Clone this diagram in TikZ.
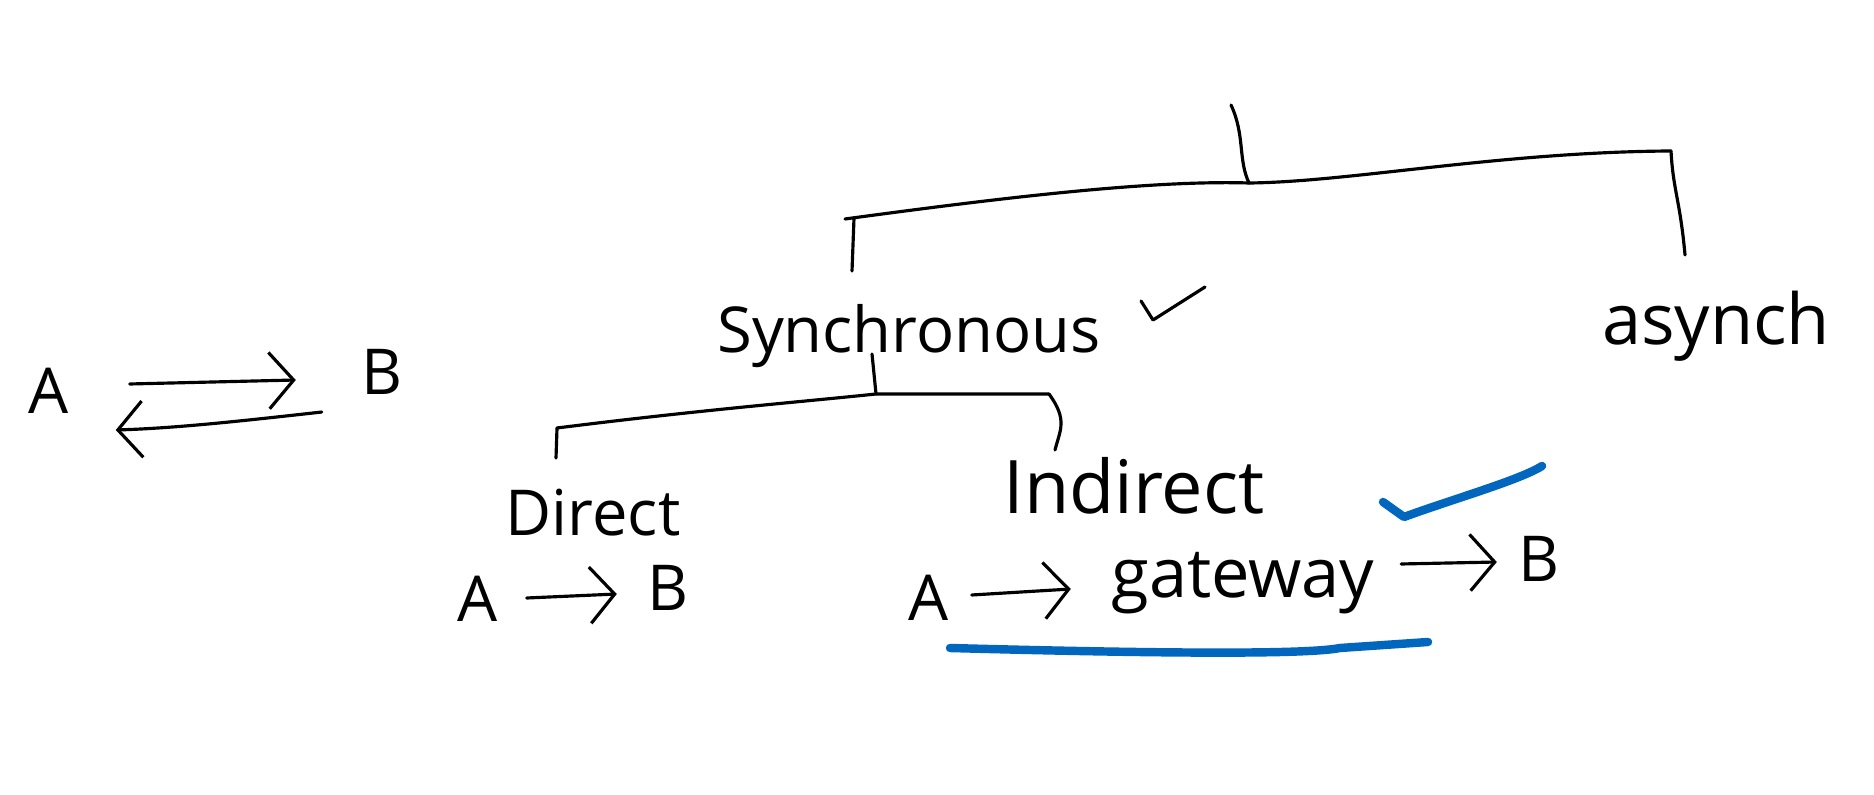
\documentclass[tikz,border=0pt]{standalone}
\usepackage{fontspec}
\setmainfont{Open Sans}
\usepackage{tikz}
\usetikzlibrary{arrows.meta}
\usetikzlibrary{positioning}

\definecolor{penblue}{RGB}{0,102,190}

\tikzset{
    word/.style={font=\fontsize{18}{22}\selectfont, inner sep=0pt},
    pen/.style={line width=0.9pt, line cap=round, line join=round},
    barb/.style={pen, -{Straight Barb[length=7pt, width=16pt, line width=0.9pt]}},
    marker/.style={line width=2.4pt, penblue, line cap=round, line join=round}
}

\begin{document}
\begin{tikzpicture}[x=0.01cm, y=-0.01cm]
    \useasboundingbox (0,0) rectangle (1874,795);

    % tree
    \coordinate (top) at (1231,105);
    \coordinate (junc) at (1249,183);
    \coordinate (lend) at (845,219);
    \coordinate (rend) at (1671,151);
    \coordinate (lsplit) at (854,218);
    \coordinate (lfoot) at (852,271);
    \coordinate (rfoot) at (1685,255);
    \node[word] (sync) at (909,336) {Synchronous};
    \node[word, font=\fontsize{20}{24}\selectfont] (async) at (1716,326) {asynch};
    \draw[pen] (top) .. controls (1245,135) and (1238,160) .. (junc);
    \draw[pen] (lend) .. controls (1000,198) and (1150,180) .. (junc);
    \draw[pen] (junc) .. controls (1350,182) and (1500,152) .. (rend);
    \draw[pen] (lsplit) -- (lfoot);
    \draw[pen] (rend) .. controls (1673,190) and (1680,200) .. (rfoot);
    \draw[pen] (1141,301) -- (1153,320) -- (1205,287);

    % A <-> B
    \node[word] (a0) at (49,391) {A};
    \node[word] (b0) at (382,372) {B};
    \draw[barb] ([xshift=0.60cm, yshift=0.07cm]a0.east) -- ([xshift=-0.65cm, yshift=-0.08cm]b0.west);
    \draw[barb] ([xshift=-0.39cm, yshift=-0.40cm]b0.west) .. controls (250,420) and (180,428) .. ([xshift=0.46cm, yshift=-0.39cm]a0.east);

    % second level
    \coordinate (sstem) at (872,354);
    \coordinate (sjunc) at (876,394);
    \coordinate (send) at (557,428);
    \coordinate (iend) at (1049,394);
    \coordinate (dfoot) at (556,458);
    \coordinate (ifoot) at (1055,450);
    \node[word] (direct) at (593,513) {Direct};
    \node[word, font=\fontsize{21}{25}\selectfont] (indirect) at (1134,486) {Indirect};
    \draw[pen] (sstem) -- (sjunc);
    \draw[pen] (send) .. controls (700,410) and (800,402) .. (sjunc) -- (iend);
    \draw[pen] (send) -- (dfoot);
    \draw[pen] (iend) .. controls (1068,420) and (1060,430) .. (ifoot);

    % direct
    \node[word] (a1) at (478,599) {A};
    \node[word] (b1) at (668,588) {B};
    \draw[barb] ([xshift=0.28cm, yshift=0.01cm]a1.east) -- ([xshift=-0.30cm, yshift=-0.06cm]b1.west);

    % indirect
    \node[word] (a2) at (929,598) {A};
    \node[word, font=\fontsize{19.5}{23}\selectfont] (gw) at (1243,583) {gateway};
    \node[word] (b2) at (1539,559) {B};
    \draw[barb] ([xshift=0.22cm, yshift=0.03cm]a2.east) -- ([xshift=-0.40cm, yshift=-0.06cm]gw.west);
    \draw[barb] ([xshift=0.26cm, yshift=0.19cm]gw.east) -- ([xshift=-0.21cm, yshift=-0.03cm]b2.west);

    % blue marks
    \draw[marker] (1383,502) -- (1404,517) .. controls (1450,500) and (1520,480) .. (1542,466);
    \draw[marker] (950,648) .. controls (1100,652) and (1300,656) .. (1340,648) -- (1428,642);
\end{tikzpicture}
\end{document}
